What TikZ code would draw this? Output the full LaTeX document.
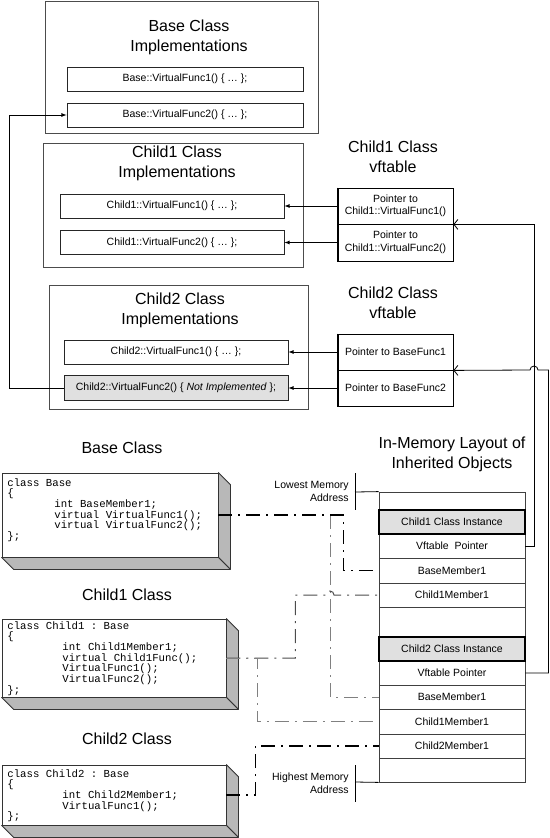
\documentclass[tikz,border=0pt]{standalone}
\usepackage{fontspec}
\setmainfont{Liberation Sans}
\setmonofont{Liberation Mono}
\usepackage{tikz}
\usetikzlibrary{shapes,arrows,arrows.meta,positioning}

\begin{document}
\begin{tikzpicture}[x=1pt, y=-1pt, line width=0.8pt]
		\tikzstyle{Title}	= [align=center, inner sep=0pt, font=\fontsize{16}{20}\selectfont]
		\tikzstyle{Label}	= [align=right, inner sep=0pt, font=\fontsize{10.5}{12.5}\selectfont]
		\tikzstyle{Outer}	= [rectangle, draw=black!70, inner sep=0pt]
		\tikzstyle{Func}	= [rectangle, draw=black!85, inner sep=0pt, minimum height=24pt, font=\fontsize{10.5}{12.5}\selectfont]
		\tikzstyle{Slot}	= [rectangle, draw, inner sep=0pt, minimum width=115pt, align=center, font=\fontsize{10.5}{12.5}\selectfont]
		\tikzstyle{Cell}	= [rectangle, draw=black!75, fill=white, inner sep=0pt, minimum width=146pt, font=\fontsize{10.5}{12.5}\selectfont]
		\tikzstyle{Instance}	= [fill=black!12, draw=black, line width=1.3pt]
		\tikzstyle{Missing}	= [fill=black!12]
		\tikzstyle{Code}	= [rectangle, draw=black!80, fill=white, inner sep=0pt]
		\tikzstyle{CodeText}	= [anchor=north west, align=left, inner sep=0pt, font=\ttfamily\fontsize{10.7}{10.7}\selectfont]
		\tikzstyle{Side}	= [fill=black!28, draw=black!80, line join=round]
		\tikzstyle{Ptr}		= [-latex]
		\tikzstyle{Back}	= [-{Straight Barb[length=4pt,width=10pt]}]
		\tikzstyle{Heavy}	= [line width=1.3pt, dash pattern=on 14pt off 6pt on 2pt off 6pt]
		\tikzstyle{Medium}	= [black!70, line width=1pt, dash pattern=on 14pt off 6pt on 2pt off 6pt]
		\tikzstyle{Light}	= [black!50, line width=0.8pt, dash pattern=on 14pt off 6pt on 2pt off 6pt]

		\useasboundingbox (0,0) rectangle (549,838);

		% implementations
		\node (bimpl) at (181.5,67) [Outer, minimum width=273pt, minimum height=132pt] {};
		\node (btitle) at (189,37) [Title] {Base Class\\Implementations};
		\node (bf1) at (185,79) [Func, minimum width=236pt] {Base::VirtualFunc1() \{ … \};};
		\node (bf2) at (185,115) [Func, minimum width=236pt] {Base::VirtualFunc2() \{ … \};};

		\node (c1impl) at (173,205) [Outer, minimum width=260pt, minimum height=124pt] {};
		\node (c1title) at (177,163) [Title] {Child1 Class\\Implementations};
		\node (c1f1) at (172,206) [Func, minimum width=224pt] {Child1::VirtualFunc1() \{ … \};};
		\node (c1f2) at (172,242.5) [Func, minimum width=224pt] {Child1::VirtualFunc2() \{ … \};};

		\node (c2impl) at (178.5,347) [Outer, minimum width=259pt, minimum height=124pt] {};
		\node (c2title) at (180,310) [Title] {Child2 Class\\Implementations};
		\node (c2f1) at (176,352) [Func, minimum width=224pt] {Child2::VirtualFunc1() \{ … \};};
		\node (c2f2) at (176,388) [Func, Missing, minimum width=224pt, minimum height=25pt] {Child2::VirtualFunc2() \{ \textit{Not Implemented} \};};

		% vftables
		\node (vt1title) at (393,157) [Title] {Child1 Class\\vftable};
		\node (vt1a) at (395.5,206) [Slot, minimum height=36pt] {Pointer to\\Child1::VirtualFunc1()};
		\node (vt1b) at (395.5,242.5) [Slot, minimum height=37pt] {Pointer to\\Child1::VirtualFunc2()};
		\draw [line width=1.4pt] (vt1a.north west) -- (vt1b.south west) -- (vt1b.south east);

		\node (vt2title) at (393,303) [Title] {Child2 Class\\vftable};
		\node (vt2a) at (395.5,352) [Slot, minimum height=36pt] {Pointer to BaseFunc1};
		\node (vt2b) at (395.5,388) [Slot, minimum height=36pt] {Pointer to BaseFunc2};
		\draw [line width=1.4pt] (vt2a.north west) -- (vt2b.south west) -- (vt2b.south east);

		\draw [Ptr] (vt1a.west) -- (c1f1.east);
		\draw [Ptr] (vt1b.west) -- (c1f2.east);
		\draw [Ptr] (vt2a.west) -- (c2f1.east);
		\draw [Ptr] (vt2b.west) -- (c2f2.east);
		\draw [Ptr] (c2f2.west) -- ++(-54,0) |- (bf2.west);

		% class declarations
		\node (bclass) at (122,448) [Title] {Base Class};
		\node (bcode) at (110,515) [Code, minimum width=216pt, minimum height=84pt] {};
		\filldraw [Side] (bcode.north east) -- ++(12,12) -- ([shift={(12,12)}]bcode.south east) -- (bcode.south east) -- cycle;
		\filldraw [Side] (bcode.south west) -- ++(12,12) -- ([shift={(12,12)}]bcode.south east) -- (bcode.south east) -- cycle;
		\node (bcodetxt) at (7,478) [CodeText] {class Base\\\{\\\hspace*{47pt}int BaseMember1;\\\hspace*{47pt}virtual VirtualFunc1();\\\hspace*{47pt}virtual VirtualFunc2();\\\};};

		\node (c1class) at (127,595) [Title] {Child1 Class};
		\node (c1code) at (114,658) [Code, minimum width=224pt, minimum height=78pt] {};
		\filldraw [Side] (c1code.north east) -- ++(12,12) -- ([shift={(12,12)}]c1code.south east) -- (c1code.south east) -- cycle;
		\filldraw [Side] (c1code.south west) -- ++(12,12) -- ([shift={(12,12)}]c1code.south east) -- (c1code.south east) -- cycle;
		\node (c1codetxt) at (7,621) [CodeText] {class Child1 : Base\\\{\\\hspace*{55pt}int Child1Member1;\\\hspace*{55pt}virtual Child1Func();\\\hspace*{55pt}VirtualFunc1();\\\hspace*{55pt}VirtualFunc2();\\\};};

		\node (c2class) at (127,739) [Title] {Child2 Class};
		\node (c2code) at (114,795) [Code, minimum width=224pt, minimum height=60pt] {};
		\filldraw [Side] (c2code.north east) -- ++(12,12) -- ([shift={(12,12)}]c2code.south east) -- (c2code.south east) -- cycle;
		\filldraw [Side] (c2code.south west) -- ++(12,12) -- ([shift={(12,12)}]c2code.south east) -- (c2code.south east) -- cycle;
		\node (c2codetxt) at (7,769) [CodeText] {class Child2 : Base\\\{\\\hspace*{55pt}int Child2Member1;\\\hspace*{55pt}VirtualFunc1();\\\};};

		% memory layout
		\node (memtitle) at (452,454) [Title] {In-Memory Layout of\\Inherited Objects};
		\node (r0) at (452,501) [Cell, minimum height=18pt] {};
		\node (c1vp) at (452,546) [Cell, minimum height=24pt] {Vftable\ \ Pointer};
		\node (c1base) at (452,570.5) [Cell, minimum height=25pt] {BaseMember1};
		\node (c1mem) at (452,595) [Cell, minimum height=24pt] {Child1Member1};
		\node (r5) at (452,622) [Cell, minimum height=30pt] {};
		\node (c2vp) at (452,673) [Cell, minimum height=24pt] {Vftable Pointer};
		\node (c2base) at (452,697) [Cell, minimum height=24pt] {BaseMember1};
		\node (c2c1mem) at (452,721.5) [Cell, minimum height=25pt] {Child1Member1};
		\node (c2c2mem) at (452,746) [Cell, minimum height=24pt] {Child2Member1};
		\node (r11) at (452,770) [Cell, minimum height=24pt] {};
		\node (c1inst) at (452,522) [Cell, Instance, minimum height=24pt] {Child1 Class Instance};
		\node (c2inst) at (452,649) [Cell, Instance, minimum height=24pt] {Child2 Class Instance};

		\node (lowaddr) at (349,491.5) [Label, anchor=east] {Lowest Memory\\Address};
		\coordinate (lowtick) at (355,492);
		\draw (355,473) -- (355,510);
		\draw (lowtick) -- (r0.north west);
		\node (highaddr) at (349,783) [Label, anchor=east] {Highest Memory\\Address};
		\coordinate (hightick) at (355,782);
		\draw (355,765) -- (355,802);
		\draw (hightick) -- (r11.south west);

		% vftable pointers
		\draw [Back] (c1vp.east) -- ++(9,0) |- (vt1a.south east);
		\draw [Back] (c2vp.east) -- ++(23,0) |- (538,370) arc (0:-180:4) -- (vt2a.south east);

		% members
		\draw [Light] (bcode.east) -- ++(112,0) |- (c2base.west);
		\draw [Heavy] (bcode.east) -- ++(125,0) |- (c1base.west);
		\draw [Medium] (c1code.east) -- ++(69,0) |- (326,595) arc (180:360:4) -- (c1mem.west);
		\draw [Light] (c1code.east) -- ++(31,0) |- (c2c1mem.west);
		\draw [Heavy] (c2code.east) -- ++(29,0) |- (c2c2mem.west);
	\end{tikzpicture}
\end{document}
